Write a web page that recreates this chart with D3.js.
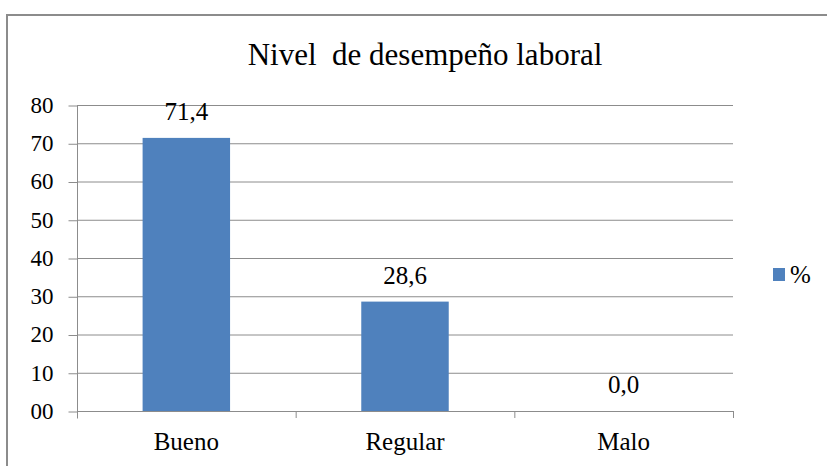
<!DOCTYPE html>
<html>
<head>
<meta charset="utf-8">
<script src="https://cdn.jsdelivr.net/npm/d3@7"></script>
<style>
  body { margin: 0; background: #fff; }
</style>
</head>
<body>
<main></main>
<script>
var w = 827;
var h = 466;
var serif = "Liberation Serif";

// data
var categories = ["Bueno", "Regular", "Malo"];
var values = [71.4, 28.6, 0.0];
var yTicks = [0, 10, 20, 30, 40, 50, 60, 70, 80];
var yTickLabels = ["00", "10", "20", "30", "40", "50", "60", "70", "80"];
var seriesName = "%";
var title = "Nivel\u00a0 de desempeño laboral";

var plotLeft = 77, plotRight = 733, plotTop = 105, plotBottom = 411;

var svg = d3.select("main").append("svg")
  .attr("width", w).attr("height", h)
  .attr("font-family", serif);

// outer frame
svg.append("rect")
  .attr("x", 7).attr("y", 15)
  .attr("width", w).attr("height", h)
  .attr("fill", "none")
  .attr("stroke", "#8c8c8c")
  .attr("stroke-width", 2);

// scales
var xScale = d3.scaleBand()
  .domain(categories)
  .range([plotLeft, plotRight])
  .paddingInner(0.6)
  .paddingOuter(0.3);
var xOuter = d3.scaleBand().domain(categories).range([plotLeft, plotRight]);
var yScale = d3.scaleLinear().domain([0, 80]).range([plotBottom, plotTop]);

// gridlines
svg.append("g").selectAll("line")
  .data(yTicks.filter(function (d) { return d > 0; }))
  .enter().append("line")
  .attr("x1", plotLeft).attr("x2", plotRight)
  .attr("y1", function (d) { return yScale(d) + 0.5; })
  .attr("y2", function (d) { return yScale(d) + 0.5; })
  .attr("stroke", "#8c8c8c");

// y axis
var yAxis = d3.axisLeft(yScale)
  .tickValues(yTicks)
  .tickSize(9)
  .tickPadding(15)
  .tickFormat(function (d, i) { return yTickLabels[i]; });
var gy = svg.append("g")
  .attr("transform", "translate(" + (plotLeft + 0.5) + ",0.5)")
  .call(yAxis)
  .attr("font-family", serif)
  .attr("font-size", 23);
gy.select(".domain").attr("stroke", "#8c8c8c").attr("d", "M0," + plotTop + "V" + (plotBottom + 7));
gy.selectAll(".tick line").attr("stroke", "#8c8c8c");
gy.selectAll(".tick text")
  .attr("font-family", serif)
  .attr("font-size", 23)
  .attr("dy", "0.3em")
  .attr("fill", "#000");

// bars
svg.append("g").selectAll("rect")
  .data(values)
  .enter().append("rect")
  .attr("x", function (d, i) { return xScale(categories[i]); })
  .attr("y", function (d) { return yScale(d); })
  .attr("width", xScale.bandwidth())
  .attr("height", function (d) { return plotBottom - yScale(d); })
  .attr("fill", "#4f81bd");

// value labels
svg.append("g").selectAll("text")
  .data(values)
  .enter().append("text")
  .attr("x", function (d, i) { return xScale(categories[i]) + xScale.bandwidth() / 2; })
  .attr("y", function (d) { return yScale(d) - 18; })
  .attr("text-anchor", "middle")
  .attr("font-family", serif)
  .attr("font-size", 25)
  .text(function (d) { return d.toFixed(1).replace(".", ","); });

// x axis
svg.append("line")
  .attr("x1", plotLeft).attr("x2", plotRight)
  .attr("y1", plotBottom + 0.5).attr("y2", plotBottom + 0.5)
  .attr("stroke", "#8c8c8c");
svg.append("g").selectAll("line")
  .data(categories)
  .enter().append("line")
  .attr("x1", function (d) { return xOuter(d) + xOuter.bandwidth() + 0.5; })
  .attr("x2", function (d) { return xOuter(d) + xOuter.bandwidth() + 0.5; })
  .attr("y1", plotBottom).attr("y2", plotBottom + 7)
  .attr("stroke", "#8c8c8c");
svg.append("g").selectAll("text")
  .data(categories)
  .enter().append("text")
  .attr("x", function (d) { return xScale(d) + xScale.bandwidth() / 2; })
  .attr("y", 450)
  .attr("text-anchor", "middle")
  .attr("font-family", serif)
  .attr("font-size", 25)
  .text(function (d) { return d; });

// title
svg.append("text")
  .attr("x", 425).attr("y", 65)
  .attr("text-anchor", "middle")
  .attr("font-family", serif)
  .attr("font-size", 31)
  .text(title);

// legend
svg.append("rect")
  .attr("x", 773).attr("y", 268)
  .attr("width", 12).attr("height", 13)
  .attr("fill", "#4f81bd");
svg.append("text")
  .attr("x", 790).attr("y", 283)
  .attr("font-family", serif)
  .attr("font-size", 25)
  .text(seriesName);
</script>
</body>
</html>
